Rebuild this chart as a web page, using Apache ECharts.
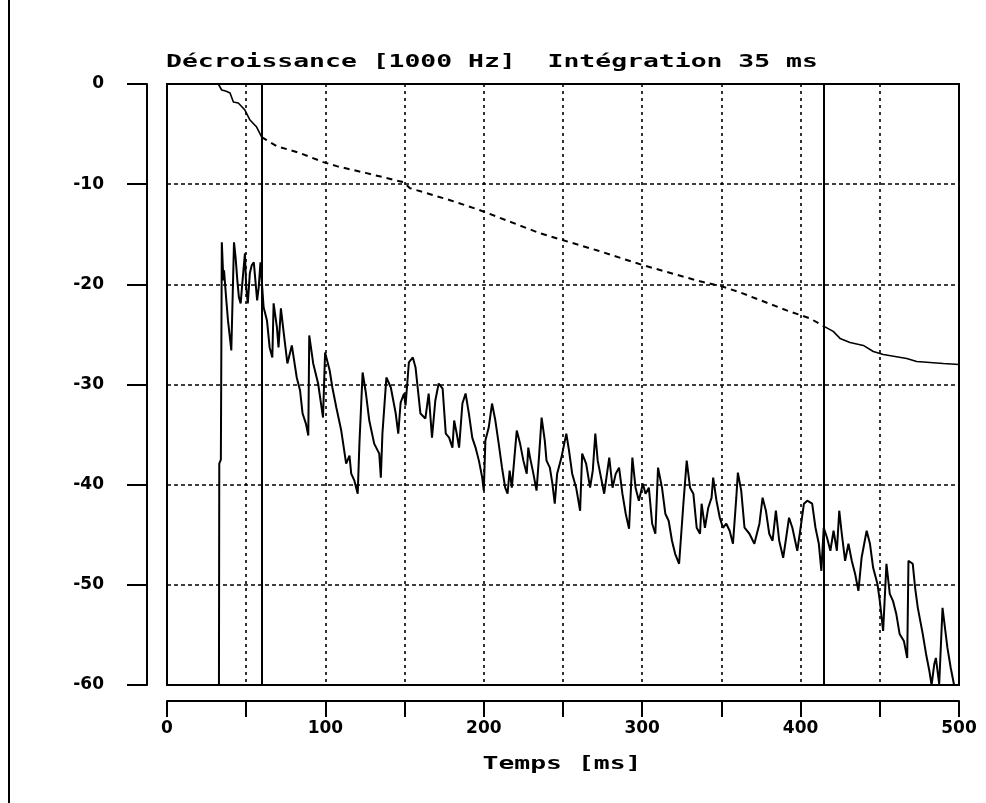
<!DOCTYPE html>
<html>
<head>
<meta charset="utf-8">
<title>Décroissance [1000 Hz]</title>
<script src="https://cdn.jsdelivr.net/npm/echarts@6/dist/echarts.min.js"></script>
<style>
  html, body { margin: 0; padding: 0; background: #fff; }
  #chart { width: 986px; height: 803px; }
</style>
</head>
<body>
<div id="chart"></div>
<script>
// Energy decay at 1000 Hz (35 ms integration window)
const titleText = 'Décroissance [1000 Hz]  Intégration 35 ms';
const xAxisTitle = 'Temps [ms]';

// Time axis (ms) and level axis (dB)
const timeMin = 0, timeMax = 500, timeStep = 50, timeLabelStep = 100;
const levelMin = -60, levelMax = 0, levelStep = 10;

// Evaluation window limits (ms)
const markerTimes = [59.8, 414.8];

// Short-time energy level
const decayTime = [32.8,33.0,34.0,34.6,35.6,36.0,37.3,38.5,40.6,41.5,42.3,43.3,44.4,45.4,46.5,47.7,49.2,50.0,51.0,52.3,53.5,54.8,56.9,57.9,59.0,61.0,63.1,64.8,66.5,67.3,69.4,70.4,71.9,73.5,76.0,78.8,81.9,84.0,85.6,87.7,89.2,89.8,92.3,95.4,98.5,99.8,102.7,104.4,106.9,110.0,113.1,115.2,116.3,118.3,120.4,121.5,123.5,125.6,127.7,130.8,134.0,135.0,136.0,138.5,141.3,144.4,146.0,147.5,149.6,150.6,152.7,155.2,156.9,160.0,163.1,165.2,167.3,169.4,171.5,174.0,176.0,178.1,180.2,181.3,182.9,184.4,186.5,188.5,190.6,192.7,194.8,196.9,199.0,200.0,201.0,203.1,205.2,207.3,209.4,211.5,213.5,215.0,216.3,217.7,220.8,222.9,225.0,227.1,228.1,229.2,231.3,233.3,235.0,236.5,238.5,239.6,241.7,243.3,244.8,246.3,249.0,252.1,253.8,255.8,258.3,260.8,262.1,264.6,267.1,268.8,270.4,271.9,274.0,276.0,279.2,281.3,283.3,285.4,287.5,289.6,291.7,293.8,295.8,297.9,300.4,302.1,304.2,306.3,308.3,310.0,312.5,314.6,316.7,318.8,320.8,323.3,326.0,328.1,330.2,332.3,334.4,336.5,337.5,339.6,341.7,343.8,344.8,346.9,349.0,351.0,353.1,355.2,357.3,359.4,360.4,362.5,364.6,367.7,370.8,374.0,376.0,378.1,380.2,382.3,384.4,386.5,389.0,390.6,392.7,394.8,397.9,400.0,402.1,404.2,407.3,409.4,411.5,413.1,414.6,416.7,418.8,420.8,422.9,424.4,426.0,428.1,430.2,432.3,434.4,436.5,438.5,441.7,443.8,445.8,448.5,450.0,452.1,454.2,456.3,458.3,460.4,462.5,465.2,467.3,468.1,470.8,472.3,474.0,477.1,479.2,481.3,482.7,484.4,485.4,487.5,489.6,490.6,492.7,494.8,496.9];
const decayDb = [-60,-37.9,-37.5,-15.8,-19.6,-18.6,-21.3,-23.6,-26.6,-20.9,-15.8,-17.3,-19.6,-21.3,-21.9,-19.6,-16.9,-20.3,-21.9,-18.9,-18.1,-17.8,-21.6,-20.3,-17.8,-22.3,-23.6,-26.3,-27.3,-21.9,-24.3,-26.3,-22.4,-24.6,-27.9,-26.1,-29.3,-30.6,-32.9,-33.9,-35.1,-25.1,-27.9,-29.9,-33.3,-26.8,-28.6,-30.3,-32.3,-34.6,-37.9,-37.1,-38.9,-39.6,-40.9,-35.8,-28.8,-30.9,-33.6,-35.9,-36.9,-39.3,-34.9,-29.3,-30.3,-32.9,-34.9,-31.8,-30.9,-32.1,-27.8,-27.3,-28.3,-32.9,-33.4,-30.9,-35.3,-31.6,-29.9,-30.4,-34.9,-35.3,-36.3,-33.6,-34.9,-36.3,-31.9,-30.9,-32.9,-35.3,-36.3,-37.6,-39.3,-40.6,-35.6,-34.3,-31.9,-33.6,-35.9,-38.3,-40.3,-40.9,-38.6,-40.3,-34.6,-35.9,-37.6,-38.9,-36.3,-37.3,-38.9,-40.6,-36.9,-33.3,-35.6,-37.6,-38.3,-39.9,-41.9,-38.9,-37.3,-34.9,-36.6,-38.9,-40.3,-42.6,-36.9,-37.9,-40.3,-38.6,-34.9,-37.6,-39.3,-40.9,-37.3,-40.3,-38.9,-38.3,-40.9,-42.9,-44.4,-37.3,-40.3,-41.6,-39.9,-40.9,-40.3,-43.9,-44.9,-38.3,-40.3,-42.9,-43.6,-45.6,-46.9,-47.9,-41.9,-37.6,-40.3,-40.9,-44.3,-44.9,-41.9,-44.3,-42.3,-41.3,-39.3,-41.6,-43.3,-44.3,-43.9,-44.6,-45.9,-41.3,-38.8,-40.6,-44.3,-44.9,-45.9,-43.9,-41.3,-42.6,-44.9,-45.6,-42.6,-45.6,-47.3,-45.6,-43.3,-44.3,-46.6,-44.3,-41.9,-41.6,-41.9,-44.3,-45.9,-48.6,-44.3,-45.3,-46.6,-44.6,-46.6,-42.6,-44.9,-47.6,-45.9,-47.6,-48.9,-50.6,-47.3,-44.6,-45.9,-48.3,-49.9,-51.6,-54.6,-47.9,-50.9,-51.6,-52.9,-54.9,-55.6,-57.3,-47.6,-47.9,-50.3,-52.3,-54.9,-56.9,-58.6,-60,-57.9,-57.3,-59.9,-52.3,-53.6,-56.3,-58.3,-60];

// Backward-integrated (Schroeder) decay curve
const integTime = [32.4,34.5,37.0,39.8,41.9,45.0,49.2,52.4,56.6,59.8,62.9,69.2,84.0,98.7,107.1,126.0,149.2,153.4,178.7,197.6,235.5,250.2,271.3,300.7,336.5,350.2,361.7,391.2,405.9,414.8,420.6,424.9,431.2,439.6,445.9,452.2,467.0,473.3,490.1,500.0];
const integDb = [0,-0.6,-0.7,-0.9,-1.8,-1.9,-2.6,-3.6,-4.3,-5.3,-5.6,-6.2,-6.9,-7.8,-8.2,-8.9,-9.8,-10.4,-11.6,-12.6,-14.9,-15.6,-16.6,-18.1,-19.7,-20.2,-20.8,-22.6,-23.4,-24.2,-24.7,-25.4,-25.8,-26.1,-26.7,-27.0,-27.4,-27.7,-27.9,-28.0];

const pairs = (xs, ys) => xs.map((x, i) => [x, ys[i]]);
const integPts = pairs(integTime, integDb);
const [winStart, winEnd] = markerTimes;
const integHead = integPts.filter(p => p[0] <= winStart);
const integMid = integPts.filter(p => p[0] >= winStart && p[0] <= winEnd);
const integTail = integPts.filter(p => p[0] >= winEnd);

const ink = '#000';
const labelFont = { color: ink, fontFamily: 'DejaVu Sans', fontWeight: 'bold', fontSize: 17 };
const monoFont = 'bold 18px "DejaVu Sans Mono"';

const chart = echarts.init(document.getElementById('chart'), null, { renderer: 'canvas' });
chart.setOption({
  animation: false,
  backgroundColor: '#fff',
  grid: {
    left: 167, top: 84, width: 792, height: 601,
    show: true, borderColor: ink, borderWidth: 2, backgroundColor: 'transparent'
  },
  xAxis: {
    type: 'value', min: timeMin, max: timeMax, interval: timeStep,
    offset: 16,
    axisLine: { show: true, onZero: false, lineStyle: { color: ink, width: 2 } },
    axisTick: { show: true, length: 16, lineStyle: { color: ink, width: 2 } },
    axisLabel: {
      ...labelFont, margin: 19,
      formatter: v => (v % timeLabelStep === 0 ? String(v) : '')
    },
    splitLine: { show: true, lineStyle: { color: ink, width: 1.6, type: [3, 4] } }
  },
  yAxis: {
    type: 'value', min: levelMin, max: levelMax, interval: levelStep,
    offset: 20,
    axisLine: { show: true, onZero: false, lineStyle: { color: ink, width: 2 } },
    axisTick: { show: true, length: 20, lineStyle: { color: ink, width: 2 } },
    axisLabel: { ...labelFont, margin: 43 },
    splitLine: { show: true, lineStyle: { color: ink, width: 1.6, type: [4, 3] } }
  },
  graphic: [
    {
      type: 'line', silent: true,
      shape: { x1: 9, y1: 0, x2: 9, y2: 803 },
      style: { stroke: ink, lineWidth: 2 }
    },
    {
      type: 'text', silent: true, x: 166, y: 62, scaleX: 1.467,
      style: { text: titleText, font: monoFont, fill: ink, textAlign: 'left', textVerticalAlign: 'middle' }
    },
    {
      type: 'text', silent: true, x: 562, y: 764, scaleX: 1.467,
      style: { text: xAxisTitle, font: monoFont, fill: ink, textAlign: 'center', textVerticalAlign: 'middle' }
    }
  ],
  series: [
    {
      name: 'Niveau', type: 'line', data: pairs(decayTime, decayDb),
      showSymbol: false, symbol: 'none', clip: true,
      lineStyle: { color: ink, width: 2 },
      markLine: {
        silent: true, symbol: 'none', label: { show: false },
        lineStyle: { color: ink, width: 2, type: 'solid' },
        data: markerTimes.map(t => ({ xAxis: t }))
      }
    },
    {
      name: 'Intégrée', type: 'line', data: integHead,
      showSymbol: false, symbol: 'none',
      lineStyle: { color: ink, width: 1.6 }
    },
    {
      name: 'Intégrée (fenêtre)', type: 'line', data: integMid,
      showSymbol: false, symbol: 'none',
      lineStyle: { color: ink, width: 2, type: [6, 5] }
    },
    {
      name: 'Intégrée (fin)', type: 'line', data: integTail,
      showSymbol: false, symbol: 'none',
      lineStyle: { color: ink, width: 1.6 }
    }
  ]
});
</script>
</body>
</html>
